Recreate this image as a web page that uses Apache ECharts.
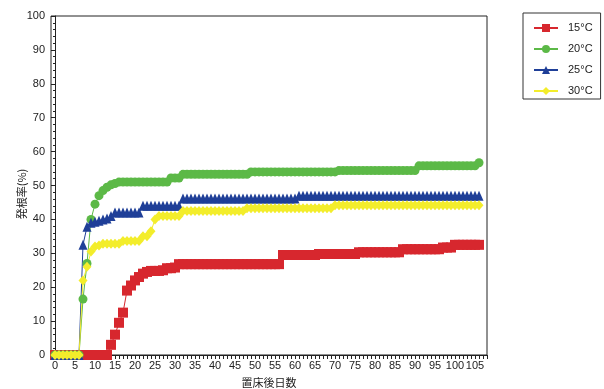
<!DOCTYPE html>
<html>
<head>
<meta charset="utf-8">
<script src="https://cdn.jsdelivr.net/npm/echarts@6.0.0/dist/echarts.min.js"></script>
<style>
html,body{margin:0;padding:0;background:#fff;}
#chart{width:604px;height:389px;}
</style>
</head>
<body>
<div id="chart"></div>
<script>
// ---- data (days after placement, rooting rate %) ----
const days = [
  0,1,2,3,4,5,6,7,8,9,
  10,11,12,13,14,15,16,17,18,19,
  20,21,22,23,24,25,26,27,28,29,
  30,31,32,33,34,35,36,37,38,39,
  40,41,42,43,44,45,46,47,48,49,
  50,51,52,53,54,55,56,57,58,59,
  60,61,62,63,64,65,66,67,68,69,
  70,71,72,73,74,75,76,77,78,79,
  80,81,82,83,84,85,86,87,88,89,
  90,91,92,93,94,95,96,97,98,99,
  100,101,102,103,104,105,106
];
const seriesNames = ['15\u00b0C', '20\u00b0C', '25\u00b0C', '30\u00b0C'];
const t15 = [
  0,0,0,0,0,0,0,0,0,0,
  0,0,0,0,3,6,9.5,12.5,19,20.5,
  22,23,24,24.5,24.8,24.8,24.8,25,25.6,25.6,
  25.8,26.8,26.8,26.8,26.8,26.8,26.8,26.8,26.8,26.8,
  26.8,26.8,26.8,26.8,26.8,26.8,26.8,26.8,26.8,26.8,
  26.8,26.8,26.8,26.8,26.8,26.8,26.8,29.5,29.5,29.5,
  29.5,29.5,29.5,29.5,29.5,29.5,29.8,29.8,29.8,29.8,
  29.8,29.8,29.8,29.8,29.8,29.8,30.3,30.3,30.3,30.3,
  30.3,30.3,30.3,30.3,30.3,30.3,30.3,31.2,31.2,31.2,
  31.2,31.2,31.2,31.2,31.2,31.2,31.2,31.7,31.7,31.7,
  32.5,32.5,32.5,32.5,32.5,32.5,32.5
];
const t20 = [
  0,0,0,0,0,0,0,16.5,27,40,
  44.5,47,48.5,49.5,50.2,50.6,51,51,51,51,
  51,51,51,51,51,51,51,51,51,52.2,
  52.2,52.2,53.3,53.3,53.3,53.3,53.3,53.3,53.3,53.3,
  53.3,53.3,53.3,53.3,53.3,53.3,53.3,53.3,53.3,54,
  54,54,54,54,54,54,54,54,54,54,
  54,54,54,54,54,54,54,54,54,54,
  54,54.4,54.4,54.4,54.4,54.4,54.4,54.4,54.4,54.4,
  54.4,54.4,54.4,54.4,54.4,54.4,54.4,54.4,54.4,54.4,
  54.4,55.8,55.8,55.8,55.8,55.8,55.8,55.8,55.8,55.8,
  55.8,55.8,55.8,55.8,55.8,55.8,56.7
];
const t25 = [
  0,0,0,0,0,0,0,32.5,37.8,39,
  39.3,39.6,40,40.3,41,42,42,42,42,42,
  42,42,44,44,44,44,44,44,44,44,
  44,44,46.2,46.2,46.2,46.2,46.2,46.2,46.2,46.2,
  46.2,46.2,46.2,46.2,46.2,46.2,46.2,46.2,46.2,46.2,
  46.2,46.2,46.2,46.2,46.2,46.2,46.2,46.2,46.2,46.2,
  46.2,47,47,47,47,47,47,47,47,47,
  47,47,47,47,47,47,47,47,47,47,
  47,47,47,47,47,47,47,47,47,47,
  47,47,47,47,47,47,47,47,47,47,
  47,47,47,47,47,47,47
];
const t30 = [
  0,0,0,0,0,0,0,22,26,30.5,
  32,32.3,32.8,32.8,32.8,32.8,32.8,33.6,33.6,33.6,
  33.6,33.6,35,35,36.5,40,41,41,41,41,
  41,41,42.5,42.5,42.5,42.5,42.5,42.5,42.5,42.5,
  42.5,42.5,42.5,42.5,42.5,42.5,42.5,42.5,43.3,43.3,
  43.3,43.3,43.3,43.3,43.3,43.3,43.3,43.3,43.3,43.3,
  43.3,43.3,43.3,43.3,43.3,43.3,43.3,43.3,43.3,43.3,
  44.2,44.2,44.2,44.2,44.2,44.2,44.2,44.2,44.2,44.2,
  44.2,44.2,44.2,44.2,44.2,44.2,44.2,44.2,44.2,44.2,
  44.2,44.2,44.2,44.2,44.2,44.2,44.2,44.2,44.2,44.2,
  44.2,44.2,44.2,44.2,44.2,44.2,44.2
];
const xLabelValues = [0,5,10,15,20,25,30,35,40,45,50,55,60,65,70,75,80,85,90,95,100,105];
const xName = '置床後日数';
const yName = '発根率(%)';

// ---- styles ----
const FONT = '"Liberation Sans Narrow", "Liberation Sans", Arial, sans-serif';
const CJK = '"Noto Sans CJK JP", "Noto Sans", sans-serif';
const AXIS = '#222';
const colors = ['#d7272e', '#5cb947', '#1f3f98', '#f3ed2b'];
const symbols = ['rect', 'circle', 'triangle', 'diamond'];
const sizes = [10, 9, [9, 10], [9, 10]];
const values = [t15, t20, t25, t30];

function pairs(vals) { return days.map((d, i) => [d, vals[i]]); }

const chart = echarts.init(document.getElementById('chart'), null, {renderer: 'canvas'});
chart.setOption({
  animation: false,
  backgroundColor: '#fff',
  grid: {
    left: 51, right: 117, top: 16, bottom: 34,
    containLabel: false, outerBoundsMode: 'none',
    show: true, borderColor: AXIS, borderWidth: 1, backgroundColor: 'transparent'
  },
  legend: {
    orient: 'vertical', left: 523, top: 13,
    padding: [8, 8, 1, 10], itemGap: 7, itemWidth: 24, itemHeight: 10,
    borderColor: '#333', borderWidth: 1,
    textStyle: {fontFamily: FONT, fontSize: 11, color: '#222', lineHeight: 14, padding: [0, 0, 0, 5]},
    data: seriesNames
  },
  xAxis: {
    type: 'value', min: -1, max: 108, interval: 1,
    name: xName, nameLocation: 'middle', nameGap: 22, nameMoveOverlap: false,
    nameTextStyle: {fontFamily: CJK, fontSize: 11, color: '#222'},
    axisLine: {show: true, lineStyle: {color: AXIS, width: 1}},
    axisTick: {show: true, inside: false, length: 4, lineStyle: {color: AXIS}},
    axisLabel: {
      fontFamily: FONT, fontSize: 11, color: '#222', margin: 5,
      formatter: v => xLabelValues.indexOf(v) >= 0 ? String(v) : ''
    },
    splitLine: {show: false}
  },
  yAxis: {
    type: 'value', min: 0, max: 100, interval: 10,
    name: yName, nameLocation: 'middle', nameGap: 24, nameMoveOverlap: false,
    nameTextStyle: {fontFamily: CJK, fontSize: 11, color: '#222', padding: [0, 17, 0, 0]},
    axisLine: {show: true, lineStyle: {color: AXIS, width: 1}},
    axisTick: {show: true, inside: false, length: 4, lineStyle: {color: AXIS}},
    minorTick: {show: true, splitNumber: 5, length: 2, lineStyle: {color: AXIS}},
    axisLabel: {fontFamily: FONT, fontSize: 11, color: '#222', margin: 6},
    splitLine: {show: false}
  },
  series: seriesNames.map((n, i) => ({
    name: n, type: 'line',
    data: pairs(values[i]),
    symbol: symbols[i], symbolSize: sizes[i],
    showAllSymbol: true,
    clip: false,
    itemStyle: {color: colors[i]},
    lineStyle: {color: colors[i], width: 1},
    emphasis: {disabled: true}
  }))
});
</script>
</body>
</html>
